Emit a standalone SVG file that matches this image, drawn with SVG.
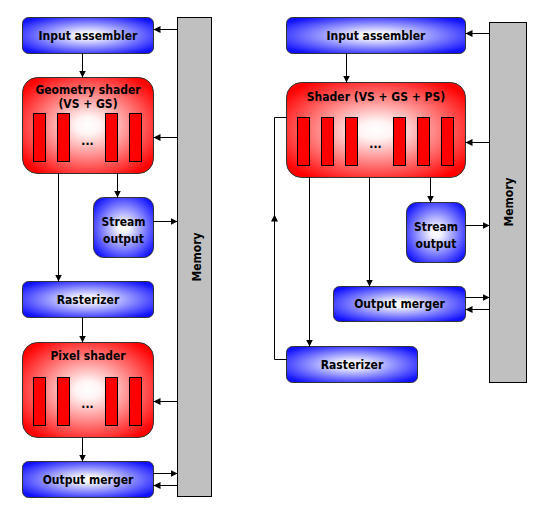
<svg xmlns="http://www.w3.org/2000/svg" width="544" height="526" viewBox="0 0 544 526">
<defs>
<radialGradient id="gb" cx="0.5" cy="0.5" r="0.62">
<stop offset="0" stop-color="#ffffff"/>
<stop offset="0.15" stop-color="#f4f4ff"/>
<stop offset="1" stop-color="#1010ff"/>
</radialGradient>
<radialGradient id="gr" cx="0.5" cy="0.5" r="0.62">
<stop offset="0" stop-color="#ffffff"/>
<stop offset="0.15" stop-color="#fff4f4"/>
<stop offset="1" stop-color="#ff0000"/>
</radialGradient>
<marker id="ah" viewBox="0 0 10 10" refX="10" refY="5" markerWidth="7" markerHeight="7" markerUnits="userSpaceOnUse" orient="auto">
<path d="M0,0 L10,5 L0,10 z" fill="#000"/>
</marker>
<style>
.b{fill:url(#gb);stroke:#333;stroke-width:1}
.r{fill:url(#gr);stroke:#333;stroke-width:1}
.u{fill:#ff0000;stroke:#000;stroke-width:1}
.m{fill:#c0c0c0;stroke:#000;stroke-width:1}
.t{font-family:'DejaVu Sans Condensed','DejaVu Sans',sans-serif;font-weight:bold;font-size:12px;fill:#000;text-anchor:middle}
.c path{fill:none;stroke:#000;stroke-width:1;marker-end:url(#ah)}
</style>
</defs>
<rect width="544" height="526" fill="#fff"/>

<g id="memory-left">
<rect class="m" x="177.5" y="17.5" width="34" height="479"/>
<text class="t" transform="translate(201,257) rotate(-90)">Memory</text>
</g>
<g id="ia-left">
<rect class="b" x="22.5" y="17.5" width="131" height="36" rx="6"/>
<text class="t" x="88" y="39.5">Input assembler</text>
</g>
<g id="gs-left">
<rect class="r" x="22.5" y="77.5" width="131" height="96" rx="15"/>
<text class="t" x="88" y="93.5">Geometry shader</text>
<text class="t" x="88" y="107.5">(VS + GS)</text>
<rect class="u" x="33.5" y="113.5" width="12" height="48"/>
<rect class="u" x="57.5" y="113.5" width="12" height="48"/>
<rect class="u" x="105.5" y="113.5" width="12" height="48"/>
<rect class="u" x="129.5" y="113.5" width="12" height="48"/>
<text class="t" x="87.5" y="145">...</text>
</g>
<g id="so-left">
<rect class="b" x="93.5" y="197.5" width="60" height="60" rx="10"/>
<text class="t" x="123.5" y="226">Stream</text>
<text class="t" x="123.5" y="243">output</text>
</g>
<g id="rast-left">
<rect class="b" x="22.5" y="281.5" width="131" height="36" rx="6"/>
<text class="t" x="88" y="303.5">Rasterizer</text>
</g>
<g id="ps-left">
<rect class="r" x="22.5" y="342.5" width="131" height="95" rx="15"/>
<text class="t" x="88" y="359.5">Pixel shader</text>
<rect class="u" x="33.5" y="377.5" width="12" height="48"/>
<rect class="u" x="57.5" y="377.5" width="12" height="48"/>
<rect class="u" x="105.5" y="377.5" width="12" height="48"/>
<rect class="u" x="129.5" y="377.5" width="12" height="48"/>
<text class="t" x="87.5" y="408">...</text>
</g>
<g id="om-left">
<rect class="b" x="22.5" y="461.5" width="131" height="36" rx="6"/>
<text class="t" x="88" y="483.5">Output merger</text>
</g>

<g id="memory-right">
<rect class="m" x="489.5" y="22.5" width="37" height="360"/>
<text class="t" transform="translate(513,202) rotate(-90)">Memory</text>
</g>
<g id="ia-right">
<rect class="b" x="286.5" y="17.5" width="179" height="36" rx="6"/>
<text class="t" x="376" y="39.5">Input assembler</text>
</g>
<g id="shader-right">
<rect class="r" x="286.5" y="82.5" width="179" height="95" rx="15"/>
<text class="t" x="376" y="100.5">Shader (VS + GS + PS)</text>
<rect class="u" x="297.5" y="117.5" width="12" height="48"/>
<rect class="u" x="321.5" y="117.5" width="12" height="48"/>
<rect class="u" x="345.5" y="117.5" width="12" height="48"/>
<rect class="u" x="393.5" y="117.5" width="12" height="48"/>
<rect class="u" x="417.5" y="117.5" width="12" height="48"/>
<rect class="u" x="441.5" y="117.5" width="12" height="48"/>
<text class="t" x="375.5" y="148">...</text>
</g>
<g id="so-right">
<rect class="b" x="406.5" y="202.5" width="59" height="60" rx="10"/>
<text class="t" x="436" y="231">Stream</text>
<text class="t" x="436" y="248">output</text>
</g>
<g id="om-right">
<rect class="b" x="333.5" y="286.5" width="132" height="35" rx="6"/>
<text class="t" x="399.5" y="308">Output merger</text>
</g>
<g id="rast-right">
<rect class="b" x="286.5" y="346.5" width="131" height="36" rx="6"/>
<text class="t" x="352" y="368.5">Rasterizer</text>
</g>

<g id="connectors" class="c">
<path d="M177,29.5 H153.5"/>
<path d="M82.5,53.5 V77.5"/>
<path d="M177,137.5 H153.5"/>
<path d="M58.5,173.5 V281.5"/>
<path d="M117.5,173.5 V197.5"/>
<path d="M153.5,221.5 H177.5"/>
<path d="M82.5,317.5 V342.5"/>
<path d="M177,401.5 H153.5"/>
<path d="M82.5,437.5 V461.5"/>
<path d="M153.5,473.5 H177.5"/>
<path d="M177,485.5 H153.5"/>

<path d="M489,33.5 H465.5"/>
<path d="M346.5,53.5 V82.5"/>
<path d="M489,142.5 H465.5"/>
<path d="M430.5,177.5 V202.5"/>
<path d="M465.5,225.5 H489.5"/>
<path d="M369.5,177.5 V286.5"/>
<path d="M465.5,297.5 H489.5"/>
<path d="M489,309.5 H465.5"/>
<path d="M309.5,177.5 V346.5"/>
<path d="M286.5,359.5 H274.5 V214.5"/>
<path d="M274.5,216 V117.5 H286.5" style="marker-end:none"/>
</g>
</svg>
